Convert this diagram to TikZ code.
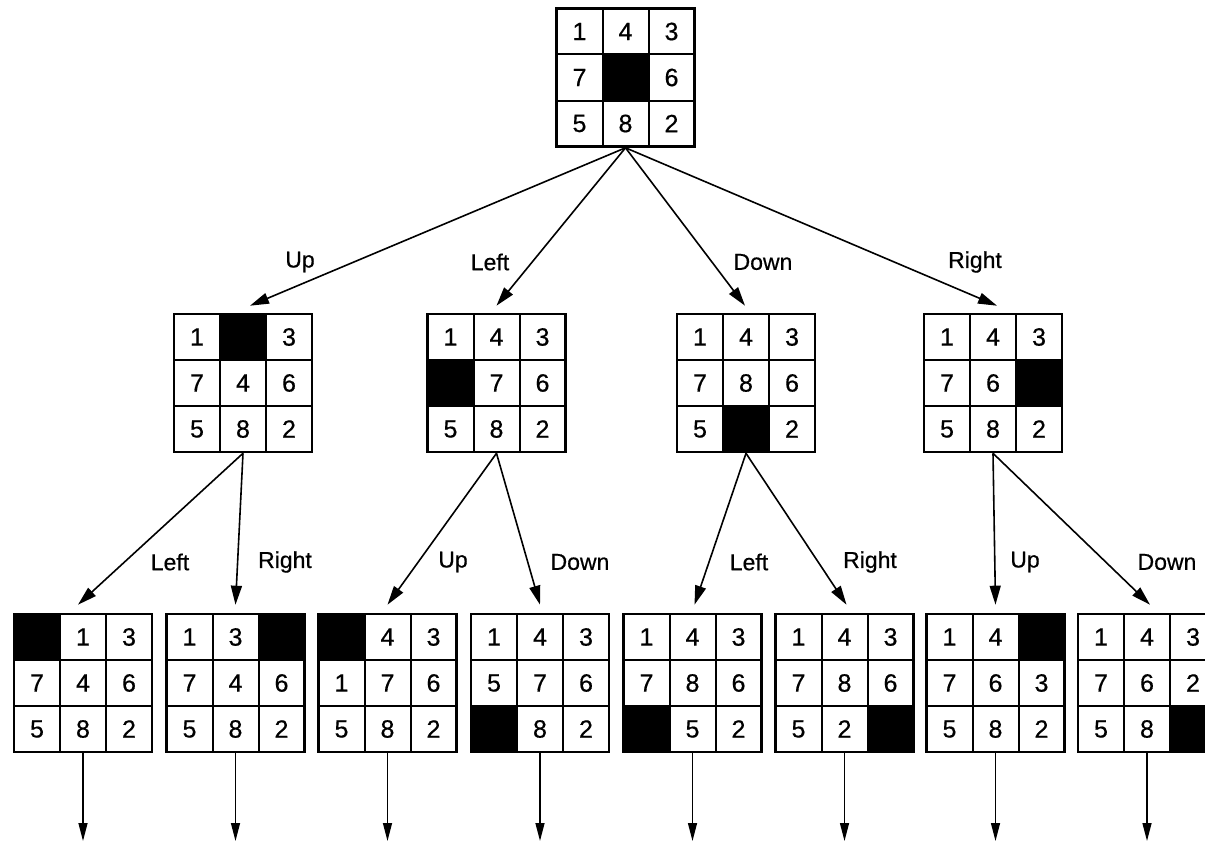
\documentclass[tikz,border=0pt]{standalone}
\usepackage{fontspec}
\setmainfont{Liberation Sans}
\newfontfamily\scanfont[FakeBold=0.5]{Liberation Sans}
\usetikzlibrary{arrows.meta}
\tikzset{
 cell/.style={draw, line width=2pt, minimum size=46pt, inner sep=0pt, font=\scanfont\fontsize{25}{27}\selectfont},
 hole/.style={cell, fill=black},
 frame/.style={draw, line width=2.6pt, minimum size=138pt, inner sep=0pt},
 arr/.style={line width=1.6pt, -{Triangle[length=19pt,width=11pt]}},
 endarr/.style={line width=1.4pt, -{Triangle[length=18pt,width=9pt]}},
 lbl/.style={font=\scanfont\fontsize{23}{25}\selectfont, inner sep=0pt},
}
\def\holemark{X}
\newcommand{\puzgrid}[4]{%
  \begin{scope}[shift={(#2,#3)}]
  \foreach \v [count=\i from 0] in {#4}{%
    \pgfmathtruncatemacro{\cc}{mod(\i,3)}%
    \pgfmathtruncatemacro{\rr}{div(\i,3)}%
    \ifx\v\holemark
      \node[hole] (#1-\i) at ({(\cc-1)*46},{(\rr-1)*46}) {};
    \else
      \node[cell] (#1-\i) at ({(\cc-1)*46},{(\rr-1)*46}) {\v};
    \fi
  }
  \end{scope}
  \node[frame] (#1) at (#2,#3) {};
}
\begin{document}
\begin{tikzpicture}[x=1pt,y=-1pt]
\clip (0,0) rectangle (1205,843);
\fill[white] (0,0) rectangle (1205,843);
% root
\puzgrid{top}{625.5}{77.5}{1,4,3,7,X,6,5,8,2}
% level 2
\puzgrid{g1}{243}{383}{1,X,3,7,4,6,5,8,2}
\puzgrid{g2}{496.5}{383}{1,4,3,X,7,6,5,8,2}
\puzgrid{g3}{746}{383}{1,4,3,7,8,6,5,X,2}
\puzgrid{g4}{993}{383}{1,4,3,7,6,X,5,8,2}
% level 3
\puzgrid{l1}{83}{683}{X,1,3,7,4,6,5,8,2}
\puzgrid{l2}{235.5}{683}{1,3,X,7,4,6,5,8,2}
\puzgrid{l3}{387.5}{683}{X,4,3,1,7,6,5,8,2}
\puzgrid{l4}{540}{683}{1,4,3,5,7,6,X,8,2}
\puzgrid{l5}{692.5}{683}{1,4,3,7,8,6,X,5,2}
\puzgrid{l6}{844.5}{683}{1,4,3,7,8,6,5,2,X}
\puzgrid{l7}{995.5}{683}{1,4,X,7,6,3,5,8,2}
\puzgrid{l8}{1147}{683}{1,4,3,7,6,2,5,8,X}
% level 1 arrows
\draw[arr] (top.south) -- ([xshift=7pt,yshift=7pt]g1.north);
\draw[arr] (top.south) -- ([xshift=0pt,yshift=7pt]g2.north);
\draw[arr] (top.south) -- ([xshift=-1pt,yshift=7pt]g3.north);
\draw[arr] (top.south) -- ([xshift=4pt,yshift=7pt]g4.north);
\node[lbl] (lab1) at (300,262) {Up};
\node[lbl] (lab2) at (490,262) {Left};
\node[lbl] (lab3) at (763,262) {Down};
\node[lbl] (lab4) at (975,262) {Right};
% level 2 arrows
\draw[arr] (g1.south) -- ([xshift=-5pt,yshift=8pt]l1.north);
\draw[arr] (g1.south) -- ([xshift=0pt,yshift=8pt]l2.north);
\draw[arr] (g2.south) -- ([xshift=0pt,yshift=8pt]l3.north);
\draw[arr] (g2.south) -- ([xshift=0pt,yshift=8pt]l4.north);
\draw[arr] (g3.south) -- ([xshift=2pt,yshift=8pt]l5.north);
\draw[arr] (g3.south) -- ([xshift=2pt,yshift=8pt]l6.north);
\draw[arr] (g4.south) -- ([xshift=0pt,yshift=8pt]l7.north);
\draw[arr] (g4.south) -- ([xshift=3pt,yshift=8pt]l8.north);
\node[lbl] (lab5) at (170,562) {Left};
\node[lbl] (lab6) at (285,562) {Right};
\node[lbl] (lab7) at (453,562) {Up};
\node[lbl] (lab8) at (580,562) {Down};
\node[lbl] (lab9) at (749,562) {Left};
\node[lbl] (lab10) at (870,562) {Right};
\node[lbl] (lab11) at (1025,562) {Up};
\node[lbl] (lab12) at (1167,562) {Down};
% bottom arrows
\foreach \n/\x in {l1/83,l2/235.5,l3/387.5,l4/540,l5/692.5,l6/844.5,l7/995.5,l8/1147}{
  \coordinate (e-\n) at (\x,841);
  \draw[endarr] (\n.south) -- (e-\n);
}
\end{tikzpicture}
\end{document}
